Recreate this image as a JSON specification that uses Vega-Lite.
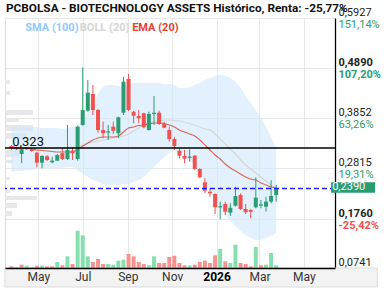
{
  "$schema": "https://vega.github.io/schema/vega-lite/v6.json",
  "width": 330,
  "height": 250,
  "autosize": {"type": "none"},
  "padding": {"left": 5, "top": 18, "right": 54, "bottom": 22},
  "background": "white",
  "config": {"view": {"stroke": null}, "font": "Roboto"},
  "title": {"text": "PCBOLSA - BIOTECHNOLOGY ASSETS Histórico, Renta: -25,77%", "anchor": "start", "frame": "group", "fontSize": 11.8, "fontWeight": "bold", "font": "Roboto", "color": "#111111", "offset": 3, "dx": 1, "dy": 11},
  "datasets": {
    "w": [
      {"d": "2025-03-25", "o": 0.3272, "h": 0.3293, "l": 0.3189, "c": 0.3230, "v": 5, "vu": 0, "ema": 0.3251, "mid": 0.3220, "bu": 0.3707, "bl": 0.2732},
      {"d": "2025-04-01", "o": 0.3245, "h": 0.3262, "l": 0.3189, "c": 0.3204, "v": 3, "vu": 1, "ema": 0.3241, "mid": 0.3220, "bu": 0.3707, "bl": 0.2753},
      {"d": "2025-04-08", "o": 0.3106, "h": 0.3215, "l": 0.2919, "c": 0.3204, "v": 10, "vu": 0, "ema": 0.3230, "mid": 0.3220, "bu": 0.3687, "bl": 0.2753},
      {"d": "2025-04-15", "o": 0.3230, "h": 0.3251, "l": 0.3189, "c": 0.3205, "v": 7, "vu": 1, "ema": 0.3230, "mid": 0.3230, "bu": 0.3687, "bl": 0.2774},
      {"d": "2025-04-22", "o": 0.3210, "h": 0.3230, "l": 0.3148, "c": 0.3168, "v": 2, "vu": 0, "ema": 0.3210, "mid": 0.3220, "bu": 0.3666, "bl": 0.2774},
      {"d": "2025-04-29", "o": 0.3133, "h": 0.3148, "l": 0.2830, "c": 0.2926, "v": 7, "vu": 0, "ema": 0.3189, "mid": 0.3230, "bu": 0.3666, "bl": 0.2795},
      {"d": "2025-05-06", "o": 0.2926, "h": 0.3085, "l": 0.2809, "c": 0.3065, "v": 7, "vu": 1, "ema": 0.3179, "mid": 0.3230, "bu": 0.3645, "bl": 0.2816},
      {"d": "2025-05-13", "o": 0.3058, "h": 0.3085, "l": 0.2961, "c": 0.2982, "v": 5, "vu": 0, "ema": 0.3168, "mid": 0.3230, "bu": 0.3645, "bl": 0.2816},
      {"d": "2025-05-20", "o": 0.2934, "h": 0.3050, "l": 0.2913, "c": 0.2967, "v": 5, "vu": 0, "ema": 0.3158, "mid": 0.3230, "bu": 0.3645, "bl": 0.2816},
      {"d": "2025-05-27", "o": 0.2967, "h": 0.3106, "l": 0.2961, "c": 0.3085, "v": 18, "vu": 1, "ema": 0.3147, "mid": 0.3230, "bu": 0.3645, "bl": 0.2816},
      {"d": "2025-06-03", "o": 0.3121, "h": 0.3224, "l": 0.2982, "c": 0.3002, "v": 8, "vu": 0, "ema": 0.3147, "mid": 0.3220, "bu": 0.3624, "bl": 0.2816},
      {"d": "2025-06-10", "o": 0.3002, "h": 0.3708, "l": 0.2982, "c": 0.3189, "v": 35, "vu": 1, "ema": 0.3147, "mid": 0.3241, "bu": 0.3645, "bl": 0.2836},
      {"d": "2025-06-17", "o": 0.3174, "h": 0.3245, "l": 0.2982, "c": 0.3121, "v": 12, "vu": 0, "ema": 0.3147, "mid": 0.3251, "bu": 0.3666, "bl": 0.2836},
      {"d": "2025-06-24", "o": 0.3002, "h": 0.3693, "l": 0.2967, "c": 0.3672, "v": 112, "vu": 1, "ema": 0.3199, "mid": 0.3251, "bu": 0.3707, "bl": 0.2774},
      {"d": "2025-07-01", "o": 0.3708, "h": 0.4904, "l": 0.3693, "c": 0.4019, "v": 98, "vu": 1, "ema": 0.3272, "mid": 0.3293, "bu": 0.3811, "bl": 0.2691},
      {"d": "2025-07-08", "o": 0.4004, "h": 0.4641, "l": 0.3983, "c": 0.4377, "v": 35, "vu": 1, "ema": 0.3334, "mid": 0.3334, "bu": 0.3977, "bl": 0.2629},
      {"d": "2025-07-15", "o": 0.4350, "h": 0.4537, "l": 0.3915, "c": 0.4019, "v": 18, "vu": 0, "ema": 0.3396, "mid": 0.3355, "bu": 0.4143, "bl": 0.2566},
      {"d": "2025-07-22", "o": 0.4019, "h": 0.4040, "l": 0.3548, "c": 0.3604, "v": 27, "vu": 0, "ema": 0.3438, "mid": 0.3376, "bu": 0.4350, "bl": 0.2525},
      {"d": "2025-07-29", "o": 0.3604, "h": 0.3776, "l": 0.3432, "c": 0.3535, "v": 12, "vu": 0, "ema": 0.3459, "mid": 0.3396, "bu": 0.4496, "bl": 0.2484},
      {"d": "2025-08-05", "o": 0.3550, "h": 0.3708, "l": 0.3396, "c": 0.3575, "v": 12, "vu": 1, "ema": 0.3459, "mid": 0.3417, "bu": 0.4537, "bl": 0.2463},
      {"d": "2025-08-12", "o": 0.3672, "h": 0.3776, "l": 0.3521, "c": 0.3589, "v": 10, "vu": 1, "ema": 0.3459, "mid": 0.3438, "bu": 0.4537, "bl": 0.2463},
      {"d": "2025-08-19", "o": 0.3535, "h": 0.3880, "l": 0.3432, "c": 0.3867, "v": 22, "vu": 1, "ema": 0.3479, "mid": 0.3459, "bu": 0.4516, "bl": 0.2463},
      {"d": "2025-08-26", "o": 0.3963, "h": 0.4709, "l": 0.3915, "c": 0.4606, "v": 25, "vu": 1, "ema": 0.3562, "mid": 0.3479, "bu": 0.4516, "bl": 0.2484},
      {"d": "2025-09-02", "o": 0.4662, "h": 0.4765, "l": 0.4000, "c": 0.4019, "v": 42, "vu": 0, "ema": 0.3645, "mid": 0.3521, "bu": 0.4558, "bl": 0.2484},
      {"d": "2025-09-09", "o": 0.3983, "h": 0.4000, "l": 0.3743, "c": 0.3900, "v": 35, "vu": 0, "ema": 0.3666, "mid": 0.3583, "bu": 0.4579, "bl": 0.2525},
      {"d": "2025-09-16", "o": 0.3894, "h": 0.4019, "l": 0.3743, "c": 0.3846, "v": 18, "vu": 0, "ema": 0.3697, "mid": 0.3645, "bu": 0.4579, "bl": 0.2566},
      {"d": "2025-09-23", "o": 0.3950, "h": 0.3960, "l": 0.3640, "c": 0.3660, "v": 12, "vu": 0, "ema": 0.3707, "mid": 0.3707, "bu": 0.4579, "bl": 0.2629},
      {"d": "2025-09-30", "o": 0.3604, "h": 0.3983, "l": 0.3589, "c": 0.3936, "v": 8, "vu": 1, "ema": 0.3728, "mid": 0.3749, "bu": 0.4579, "bl": 0.2732},
      {"d": "2025-10-07", "o": 0.3935, "h": 0.4309, "l": 0.3708, "c": 0.3960, "v": 35, "vu": 1, "ema": 0.3749, "mid": 0.3780, "bu": 0.4579, "bl": 0.2836},
      {"d": "2025-10-14", "o": 0.3963, "h": 0.4004, "l": 0.3708, "c": 0.3728, "v": 15, "vu": 0, "ema": 0.3749, "mid": 0.3801, "bu": 0.4579, "bl": 0.2940},
      {"d": "2025-10-21", "o": 0.3728, "h": 0.3776, "l": 0.3639, "c": 0.3652, "v": 15, "vu": 0, "ema": 0.3738, "mid": 0.3811, "bu": 0.4558, "bl": 0.3044},
      {"d": "2025-10-28", "o": 0.3604, "h": 0.3672, "l": 0.3361, "c": 0.3417, "v": 33, "vu": 0, "ema": 0.3707, "mid": 0.3811, "bu": 0.4558, "bl": 0.3127},
      {"d": "2025-11-04", "o": 0.3417, "h": 0.3465, "l": 0.3189, "c": 0.3272, "v": 37, "vu": 0, "ema": 0.3666, "mid": 0.3801, "bu": 0.4537, "bl": 0.3168},
      {"d": "2025-11-11", "o": 0.3174, "h": 0.3224, "l": 0.3017, "c": 0.3071, "v": 15, "vu": 0, "ema": 0.3604, "mid": 0.3790, "bu": 0.4475, "bl": 0.3147},
      {"d": "2025-11-18", "o": 0.3065, "h": 0.3189, "l": 0.2913, "c": 0.3009, "v": 8, "vu": 0, "ema": 0.3562, "mid": 0.3770, "bu": 0.4475, "bl": 0.3085},
      {"d": "2025-11-25", "o": 0.3025, "h": 0.3204, "l": 0.2946, "c": 0.3050, "v": 8, "vu": 1, "ema": 0.3521, "mid": 0.3738, "bu": 0.4496, "bl": 0.2981},
      {"d": "2025-12-02", "o": 0.3071, "h": 0.3085, "l": 0.2774, "c": 0.2795, "v": 10, "vu": 0, "ema": 0.3479, "mid": 0.3707, "bu": 0.4537, "bl": 0.2878},
      {"d": "2025-12-09", "o": 0.2795, "h": 0.2810, "l": 0.2602, "c": 0.2623, "v": 18, "vu": 0, "ema": 0.3396, "mid": 0.3666, "bu": 0.4579, "bl": 0.2732},
      {"d": "2025-12-16", "o": 0.2519, "h": 0.2602, "l": 0.2291, "c": 0.2345, "v": 22, "vu": 0, "ema": 0.3293, "mid": 0.3625, "bu": 0.4641, "bl": 0.2525},
      {"d": "2025-12-23", "o": 0.2324, "h": 0.2401, "l": 0.2220, "c": 0.2290, "v": 15, "vu": 0, "ema": 0.3189, "mid": 0.3604, "bu": 0.4682, "bl": 0.2318},
      {"d": "2025-12-30", "o": 0.2276, "h": 0.2290, "l": 0.1862, "c": 0.2001, "v": 38, "vu": 0, "ema": 0.3085, "mid": 0.3521, "bu": 0.4724, "bl": 0.2152},
      {"d": "2026-01-06", "o": 0.1998, "h": 0.2117, "l": 0.1752, "c": 0.2025, "v": 57, "vu": 1, "ema": 0.3002, "mid": 0.3417, "bu": 0.4745, "bl": 0.2006},
      {"d": "2026-01-13", "o": 0.2069, "h": 0.2117, "l": 0.1841, "c": 0.1909, "v": 20, "vu": 0, "ema": 0.2898, "mid": 0.3313, "bu": 0.4724, "bl": 0.1840},
      {"d": "2026-01-20", "o": 0.1889, "h": 0.2084, "l": 0.1820, "c": 0.1992, "v": 15, "vu": 1, "ema": 0.2815, "mid": 0.3210, "bu": 0.4682, "bl": 0.1716},
      {"d": "2026-01-27", "o": 0.2034, "h": 0.2428, "l": 0.2013, "c": 0.2235, "v": 70, "vu": 1, "ema": 0.2753, "mid": 0.3106, "bu": 0.4599, "bl": 0.1612},
      {"d": "2026-02-03", "o": 0.2256, "h": 0.2290, "l": 0.1945, "c": 0.1965, "v": 15, "vu": 0, "ema": 0.2691, "mid": 0.2981, "bu": 0.4475, "bl": 0.1508},
      {"d": "2026-02-10", "o": 0.1965, "h": 0.2069, "l": 0.1862, "c": 0.1897, "v": 12, "vu": 0, "ema": 0.2629, "mid": 0.2878, "bu": 0.4309, "bl": 0.1426},
      {"d": "2026-02-17", "o": 0.1945, "h": 0.1960, "l": 0.1772, "c": 0.1909, "v": 5, "vu": 0, "ema": 0.2587, "mid": 0.2795, "bu": 0.4164, "bl": 0.1363},
      {"d": "2026-02-24", "o": 0.2001, "h": 0.2623, "l": 0.1980, "c": 0.2200, "v": 63, "vu": 1, "ema": 0.2566, "mid": 0.2712, "bu": 0.4019, "bl": 0.1322},
      {"d": "2026-03-03", "o": 0.2035, "h": 0.2152, "l": 0.1980, "c": 0.2060, "v": 8, "vu": 0, "ema": 0.2504, "mid": 0.2629, "bu": 0.3853, "bl": 0.1322},
      {"d": "2026-03-10", "o": 0.2013, "h": 0.2220, "l": 0.1909, "c": 0.2117, "v": 10, "vu": 1, "ema": 0.2463, "mid": 0.2546, "bu": 0.3666, "bl": 0.1363},
      {"d": "2026-03-17", "o": 0.2117, "h": 0.2560, "l": 0.2084, "c": 0.2235, "v": 45, "vu": 1, "ema": 0.2421, "mid": 0.2463, "bu": 0.3459, "bl": 0.1405},
      {"d": "2026-03-24", "o": 0.2256, "h": 0.2463, "l": 0.2117, "c": 0.2390, "v": 8, "vu": 1, "ema": 0.2401, "mid": 0.2401, "bu": 0.3230, "bl": 0.1467}
    ],
    "vp": [
      {"plo": 0.4558, "phi": 0.4641, "w": 5},
      {"plo": 0.4330, "phi": 0.4413, "w": 5},
      {"plo": 0.3915, "phi": 0.4019, "w": 28},
      {"plo": 0.3770, "phi": 0.3853, "w": 14},
      {"plo": 0.3583, "phi": 0.3708, "w": 28},
      {"plo": 0.3417, "phi": 0.3541, "w": 22},
      {"plo": 0.3044, "phi": 0.3189, "w": 14},
      {"plo": 0.2919, "phi": 0.2982, "w": 8},
      {"plo": 0.2567, "phi": 0.2629, "w": 5},
      {"plo": 0.2297, "phi": 0.2359, "w": 5},
      {"plo": 0.2152, "phi": 0.2235, "w": 32},
      {"plo": 0.1986, "phi": 0.2089, "w": 12},
      {"plo": 0.1819, "phi": 0.1923, "w": 7}
    ]
  },
  "layer": [
    {
      "data": {"name": "vp"},
      "mark": {"type": "rect", "color": "#e8e8e8"},
      "encoding": {
        "x": {"field": "w", "type": "quantitative", "scale": {"domain": [0, 330], "nice": false, "zero": true}, "axis": null},
        "x2": {"datum": 0},
        "y": {"field": "plo", "type": "quantitative", "scale": {"domain": [0.0741, 0.5927], "nice": false, "zero": false}, "axis": null},
        "y2": {"field": "phi"}
      }
    },
    {
      "data": {"name": "w"},
      "layer": [
        {
          "data": {"values": [{}]},
          "mark": {"type": "rect", "fill": "#f3f3f3", "stroke": "#dcdcdc", "strokeWidth": 1},
          "encoding": {
            "x": {"datum": {"year": 2025, "month": 3, "date": 16, "utc": true}, "type": "temporal",
                  "scale": {"type": "utc", "domain": [{"year": 2025, "month": 3, "date": 23, "utc": true}, {"year": 2026, "month": 6, "date": 6, "utc": true}]},
                  "axis": {"orient": "bottom", "values": [{"year": 2025, "month": 5, "date": 1, "utc": true}, {"year": 2025, "month": 7, "date": 1, "utc": true}, {"year": 2025, "month": 9, "date": 1, "utc": true}, {"year": 2025, "month": 11, "date": 1, "utc": true}, {"year": 2026, "month": 1, "date": 1, "utc": true}, {"year": 2026, "month": 3, "date": 1, "utc": true}, {"year": 2026, "month": 5, "date": 1, "utc": true}],
                           "grid": true, "gridColor": "#e8e8e8", "labels": false, "ticks": false, "domain": false, "title": null}},
            "x2": {"datum": {"year": 2026, "month": 8, "date": 10, "utc": true}},
            "y": {"datum": 0.0741, "type": "quantitative", "scale": {"domain": [0.0741, 0.5927], "nice": false, "zero": false},
                  "axis": {"orient": "left", "domain": true, "domainColor": "#dddddd", "labels": false, "ticks": false, "grid": false, "title": null}},
            "y2": {"datum": 0.0347}
          }
        },
        {
          "layer": [
            {
              "mark": {"type": "area", "color": "#cfe8fb", "opacity": 0.6, "interpolate": "monotone"},
              "encoding": {
                "x": {"field": "d", "type": "temporal"},
                "y": {"field": "bu", "type": "quantitative",
                      "axis": {"orient": "right", "values": [0.5927, 0.489, 0.3852, 0.2815, 0.176, 0.0741],
                               "labelExpr": "replace(format(datum.value, '.4f'), '.', ',')",
                               "labelBaseline": "bottom", "labelAlign": "left", "labelPadding": 3, "labelFontSize": 11, "labelColor": "#222222", "labelOffset": -0.5,
                               "labelFontWeight": {"condition": {"test": "datum.value == 0.489 || datum.value == 0.176", "value": "bold"}, "value": "normal"},
                               "ticks": false, "domain": true, "domainColor": "#000000", "domainWidth": 1.3,
                               "grid": true, "gridColor": "#e8e8e8", "title": null, "labelBound": false, "labelOverlap": false}},
                "y2": {"field": "bl"}
              }
            },
            {
              "mark": {"type": "line", "color": "#d6d6d6", "strokeWidth": 1.2, "interpolate": "monotone"},
              "encoding": {"x": {"field": "d", "type": "temporal"}, "y": {"field": "mid", "type": "quantitative"}}
            },
            {
              "mark": {"type": "line", "color": "#e0513f", "strokeWidth": 1.1, "opacity": 0.9, "interpolate": "monotone"},
              "encoding": {"x": {"field": "d", "type": "temporal"}, "y": {"field": "ema", "type": "quantitative"}}
            },
            {
              "mark": {"type": "rule", "strokeWidth": 1},
              "encoding": {
                "x": {"field": "d", "type": "temporal"},
                "y": {"field": "l", "type": "quantitative"},
                "y2": {"field": "h"},
                "color": {"condition": {"test": "datum.c >= datum.o", "value": "#2a9d72"}, "value": "#f0524f"}
              }
            },
            {
              "mark": {"type": "bar", "width": 4},
              "encoding": {
                "x": {"field": "d", "type": "temporal"},
                "y": {"field": "o", "type": "quantitative"},
                "y2": {"field": "c"},
                "color": {"condition": {"test": "datum.c >= datum.o", "value": "#2a9d72"}, "value": "#f0524f"}
              }
            },
            {
              "data": {"values": [{}]},
              "mark": {"type": "rule", "color": "#000000", "strokeWidth": 1.3},
              "encoding": {"y": {"datum": 0.323}}
            },
            {
              "data": {"values": [{}]},
              "mark": {"type": "rule", "color": "#1f1fff", "strokeWidth": 1.3, "strokeDash": [5, 3]},
              "encoding": {"y": {"datum": 0.239}}
            },
            {
              "data": {"values": [{}]},
              "mark": {"type": "text", "text": "0,323", "align": "left", "baseline": "alphabetic", "dy": -2, "fontSize": 13, "color": "#111111"},
              "encoding": {"x": {"datum": {"year": 2025, "month": 3, "date": 26, "utc": true}, "type": "temporal"}, "y": {"datum": 0.323}}
            },
            {
              "data": {"values": [{}]},
              "mark": {"type": "text", "text": "SMA (100)", "align": "left", "baseline": "middle", "fontSize": 11, "fontWeight": "bold", "color": "#90caf9"},
              "encoding": {"x": {"datum": {"year": 2025, "month": 4, "date": 13, "utc": true}, "type": "temporal"}, "y": {"datum": 0.572}}
            },
            {
              "data": {"values": [{}]},
              "mark": {"type": "text", "text": "BOLL (20)", "align": "left", "baseline": "middle", "fontSize": 11, "fontWeight": "bold", "color": "#d4d4d4"},
              "encoding": {"x": {"datum": {"year": 2025, "month": 6, "date": 27, "utc": true}, "type": "temporal"}, "y": {"datum": 0.572}}
            },
            {
              "data": {"values": [{}]},
              "mark": {"type": "text", "text": "EMA (20)", "align": "left", "baseline": "middle", "fontSize": 11, "fontWeight": "bold", "color": "#e8412f"},
              "encoding": {"x": {"datum": {"year": 2025, "month": 9, "date": 7, "utc": true}, "type": "temporal"}, "y": {"datum": 0.572}}
            }
          ]
        },
        {
          "data": {"values": [{}]},
          "layer": [
            {
              "mark": {"type": "rect", "fill": "#2a9d72"},
              "encoding": {
                "x": {"datum": {"year": 2026, "month": 6, "date": 7, "hours": 12, "utc": true}, "type": "temporal"},
                "x2": {"datum": {"year": 2026, "month": 8, "date": 7, "utc": true}},
                "y": {"datum": 0.252, "type": "quantitative",
                      "axis": {"orient": "right", "values": [0.5927, 0.489, 0.3852, 0.2815, 0.176],
                               "labelExpr": "['151,14%', '107,20%', '63,26%', '19,31%', '-25,42%'][indexof([0.5927, 0.489, 0.3852, 0.2815, 0.176], datum.value)]",
                               "labelBaseline": "top", "labelAlign": "left", "labelPadding": 3, "labelFontSize": 11, "labelOffset": 0.5,
                               "labelColor": {"condition": {"test": "datum.value < 0.236", "value": "#f0524f"}, "value": "#2a9d72"},
                               "labelFontWeight": {"condition": {"test": "datum.value == 0.489 || datum.value == 0.176", "value": "bold"}, "value": "normal"},
                               "ticks": false, "domain": false, "grid": false, "title": null, "labelBound": false, "labelOverlap": false}},
                "y2": {"datum": 0.230}
              }
            },
            {
              "mark": {"type": "text", "text": "0,2390", "align": "left", "baseline": "middle", "fontSize": 11, "color": "#ffffff"},
              "encoding": {
                "x": {"datum": {"year": 2026, "month": 6, "date": 9, "utc": true}, "type": "temporal"},
                "y": {"datum": 0.2411, "type": "quantitative"}
              }
            }
          ]
        }
      ],
      "resolve": {"axis": {"y": "independent"}}
    },
    {
      "data": {"name": "w"},
      "mark": {"type": "bar", "width": 4},
      "encoding": {
        "x": {"field": "d", "type": "temporal",
              "scale": {"type": "utc", "domain": [{"year": 2025, "month": 3, "date": 23, "utc": true}, {"year": 2026, "month": 6, "date": 6, "utc": true}]},
              "axis": {"orient": "bottom", "values": [{"year": 2025, "month": 5, "date": 1, "utc": true}, {"year": 2025, "month": 7, "date": 1, "utc": true}, {"year": 2025, "month": 9, "date": 1, "utc": true}, {"year": 2025, "month": 11, "date": 1, "utc": true}, {"year": 2026, "month": 1, "date": 1, "utc": true}, {"year": 2026, "month": 3, "date": 1, "utc": true}, {"year": 2026, "month": 5, "date": 1, "utc": true}],
                       "labelExpr": "utcmonth(datum.value) == 0 ? utcFormat(datum.value, '%Y') : utcFormat(datum.value, '%b')",
                       "labelFontWeight": {"condition": {"test": "utcmonth(datum.value) == 0", "value": "bold"}, "value": "normal"},
                       "labelColor": {"condition": {"test": "utcmonth(datum.value) == 0", "value": "#000000"}, "value": "#333333"},
                       "labelFontSize": 12, "labelPadding": 3, "ticks": false, "grid": false, "domain": true, "domainColor": "#000000", "domainWidth": 1.3,
                       "title": null, "zindex": 1, "labelOverlap": false}},
        "y": {"field": "v", "type": "quantitative", "scale": {"domain": [0, 750]}, "axis": null},
        "color": {"condition": {"test": "datum.vu == 1", "value": "#86dfae"}, "value": "#f8928f"}
      }
    }
  ],
  "resolve": {"scale": {"x": "independent", "y": "independent"}, "axis": {"x": "independent", "y": "independent"}}
}
